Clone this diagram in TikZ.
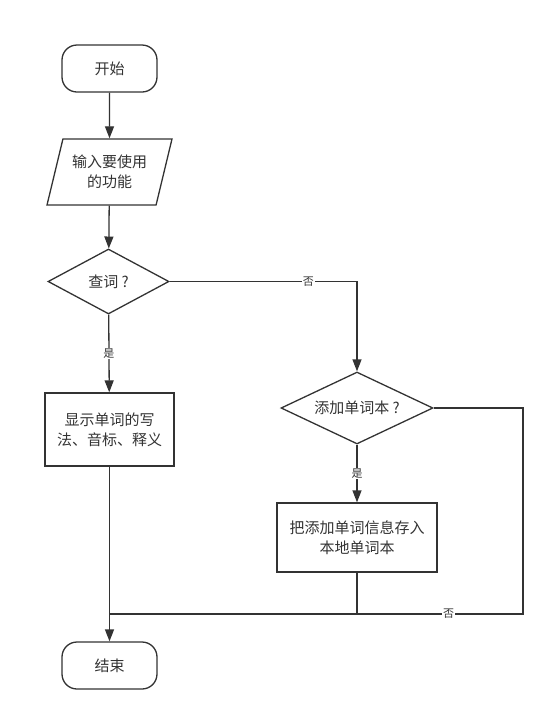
\documentclass[tikz,border=0pt]{standalone}
\usepackage{fontspec}
\setmainfont{Noto Sans CJK SC}
\usetikzlibrary{shapes.geometric,arrows.meta}
\definecolor{linegray}{HTML}{333333}
\tikzset{
  box/.style={draw=linegray, line width=1.3pt, align=center, text=linegray, font=\fontsize{15}{20}\selectfont},
  terminal/.style={box, rectangle, rounded corners=15pt, minimum width=95pt, minimum height=47pt},
  process/.style={box, rectangle},
  io/.style={box, trapezium, trapezium left angle=71, trapezium right angle=109, trapezium stretches, minimum width=125pt, minimum height=66pt},
  decision/.style={box, diamond, inner sep=0pt, shape aspect=2.1},
  wire/.style={draw=linegray, line width=1.3pt},
  flow/.style={wire, -{Triangle[length=12pt,width=9pt]}},
  branch/.style={fill=white, inner sep=1pt, text=linegray, font=\fontsize{11}{11}\selectfont}
}
\begin{document}
\begin{tikzpicture}[x=1pt, y=-1pt]
        % Paths, nodes and wires:
        \useasboundingbox (0, 0) rectangle (554, 721);
        \draw node[terminal] (N1) at (109.5, 68.5) {开始};
        \draw node[io] (N2) at (109.5, 172) {输入要使用\\的功能};
        \draw node[decision, minimum width=121pt, minimum height=65pt] (N3) at (108.5, 281.5) {查词 ?};
        \draw node[process, minimum width=129pt, minimum height=73pt] (N4) at (109.5, 429.5) {显示单词的写\\法、音标、释义};
        \draw node[decision, minimum width=152pt, minimum height=72pt] (N5) at (357, 408) {添加单词本 ?};
        \draw node[process, minimum width=160pt, minimum height=69pt] (N6) at (357, 537.5) {把添加单词信息存入\\本地单词本};
        \draw node[terminal] (N7) at (109.5, 665.5) {结束};
        \coordinate (J1) at (109.5, 614);
        \coordinate (C1) at (523, 614);
        \draw[flow] (N1) -- (N2);
        \draw[flow] (N2) -- (N3);
        \draw[flow] (N3) -- node[branch] {是} (N4);
        \draw[flow] (N3.east) -| node[branch, pos=0.37] {否} (N5.north);
        \draw[flow] (N5) -- node[branch] {是} (N6);
        \draw[wire] (N5.east) -| (C1) -- node[branch, pos=0.18] {否} (J1);
        \draw[wire] (N6.south) |- (J1);
        \draw[flow] (N4) -- (N7);
\end{tikzpicture}
\end{document}
